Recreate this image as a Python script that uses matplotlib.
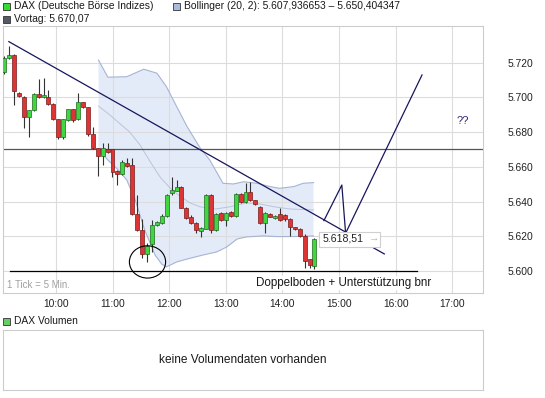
import matplotlib
matplotlib.use("Agg")
import matplotlib.pyplot as plt
from matplotlib.patches import Rectangle, Ellipse
import numpy as np

plt.rcParams['font.family'] = ['Liberation Sans', 'DejaVu Sans']


def hm(s):
    # "HH:MM" -> Stunden als Kommazahl
    h, m = s.split(':')
    return int(h) + int(m) / 60


first_candle = "09:05"
last_candle = "14:34"
opens = [5714.5, 5722.5, 5724.4, 5702.4, 5700.1, 5688.5, 5692.7, 5701.8, 5700.1, 5700.1,
         5696.0, 5687.4, 5677.4, 5687.0, 5693.1, 5687.6, 5697.2, 5694.3, 5678.7, 5670.7,
         5666.2, 5670.1, 5670.1, 5657.6, 5655.7, 5662.4, 5661.1, 5632.8, 5623.6, 5609.6,
         5615.4, 5626.5, 5627.8, 5631.7, 5644.8, 5646.3, 5648.6, 5636.5, 5631.3, 5627.5,
         5623.0, 5624.4, 5643.8, 5623.6, 5633.6, 5629.4, 5633.8, 5631.7, 5644.2, 5639.6,
         5645.7, 5640.9, 5637.0, 5627.8, 5632.8, 5630.7, 5632.7, 5632.3, 5629.8, 5625.2,
         5624.0, 5620.2, 5606.7, 5603.1]
highs = [5723.8, 5729.6, 5724.8, 5703.1, 5700.5, 5693.0, 5702.5, 5710.6, 5711.0, 5704.3,
         5696.5, 5687.6, 5687.8, 5693.5, 5693.5, 5702.7, 5697.5, 5694.5, 5682.8, 5671.0,
         5673.6, 5673.7, 5670.5, 5658.0, 5664.0, 5665.1, 5665.1, 5643.8, 5630.0, 5616.0,
         5629.4, 5629.0, 5633.0, 5644.5, 5654.1, 5652.4, 5649.0, 5637.0, 5632.0, 5628.0,
         5625.5, 5644.5, 5644.3, 5633.5, 5634.0, 5634.0, 5634.5, 5645.0, 5645.0, 5650.7,
         5651.3, 5641.0, 5637.5, 5634.0, 5633.5, 5632.5, 5636.3, 5633.0, 5630.5, 5625.5,
         5624.5, 5621.0, 5607.0, 5619.0]
lows = [5713.5, 5722.1, 5695.6, 5700.2, 5682.2, 5677.0, 5692.0, 5699.5, 5699.6, 5695.5,
        5687.0, 5675.9, 5676.0, 5686.5, 5686.0, 5687.0, 5694.0, 5678.0, 5670.0, 5654.7,
        5661.0, 5668.0, 5654.3, 5649.5, 5655.0, 5660.0, 5632.0, 5623.0, 5607.5, 5605.2,
        5611.0, 5626.0, 5627.0, 5631.0, 5644.0, 5646.0, 5636.0, 5630.0, 5627.0, 5621.9,
        5619.6, 5624.0, 5621.9, 5623.0, 5629.0, 5625.9, 5631.0, 5631.0, 5639.0, 5639.0,
        5640.5, 5638.0, 5627.0, 5621.9, 5631.0, 5630.0, 5629.0, 5629.0, 5620.2, 5623.5,
        5619.5, 5601.7, 5601.7, 5601.4]
closes = [5722.5, 5724.4, 5703.9, 5700.8, 5688.5, 5692.7, 5701.8, 5700.1, 5701.4, 5696.0,
          5687.4, 5677.4, 5687.4, 5693.1, 5687.0, 5697.2, 5694.3, 5678.7, 5670.7, 5666.2,
          5670.7, 5668.7, 5657.2, 5655.7, 5663.0, 5660.5, 5632.8, 5623.6, 5609.6, 5614.6,
          5626.5, 5628.4, 5631.7, 5643.8, 5646.7, 5648.6, 5636.5, 5630.7, 5627.5, 5623.6,
          5624.9, 5643.8, 5623.6, 5632.8, 5629.4, 5633.6, 5631.9, 5644.4, 5639.6, 5645.3,
          5640.9, 5638.6, 5627.8, 5633.2, 5631.3, 5631.9, 5629.4, 5629.8, 5625.5, 5624.0,
          5620.2, 5605.9, 5603.5, 5618.51]

# Bollinger (20, 2) - Stuetzpunkte der Baender
bb_upper_t = ["10:45", "10:55", "11:15", "11:33", "11:47", "11:57", "12:08", "12:19", "12:33", "12:43",
              "12:50", "12:57", "13:08", "13:19", "13:33", "13:47", "13:57", "14:12", "14:22", "14:33"]
bb_upper = [5721.5, 5711.6, 5711.9, 5716.2, 5713.9, 5706.2, 5694.6, 5683.1, 5670.7, 5663.9,
            5657.2, 5650.5, 5650.1, 5651.4, 5650.5, 5648.6, 5647.6, 5648.6, 5650.5, 5650.9]
bb_lower_t = ["10:45", "10:55", "11:06", "11:15", "11:24", "11:34", "11:45", "11:52", "11:57", "12:08",
              "12:22", "12:36", "12:50", "13:01", "13:12", "13:22", "13:40", "13:54", "14:08", "14:22", "14:33"]
bb_lower = [5669.7, 5663.9, 5658.2, 5652.4, 5640.9, 5623.6, 5609.2, 5604.0, 5602.3, 5605.2,
            5607.3, 5609.2, 5610.9, 5613.8, 5618.4, 5619.6, 5620.2, 5619.8, 5619.8, 5619.9, 5620.2]
bb_mid_t = ["10:45", "10:57", "11:08", "11:18", "11:29", "11:40", "11:51", "12:01", "12:11", "12:22",
            "12:33", "12:49", "13:04", "13:22", "13:36", "13:52", "14:08", "14:33"]
bb_mid = [5695.0, 5689.9, 5684.7, 5680.1, 5672.6, 5662.8, 5653.6, 5647.8, 5643.2, 5639.2,
          5636.9, 5635.7, 5636.9, 5639.2, 5638.6, 5636.9, 5635.7, 5635.1]

vortag = 5670.07
last_price = 5618.51

# Zeichnungen im Chart
trend_t = ["09:10", "15:48"]
trend_p = [5732.1, 5609.8]
zigzag_t = ["14:44", "15:03", "15:07", "16:28"]
zigzag_p = [5629.0, 5649.5, 5621.7, 5712.9]
support_t = ["09:11", "16:23"]
support_p = [5600.2, 5600.2]
circle_t, circle_p = "11:37", 5605.2

hour_ticks = ["10:00", "11:00", "12:00", "13:00", "14:00", "15:00", "16:00", "17:00"]
price_ticks = [5600, 5620, 5640, 5660, 5680, 5700, 5720]

W, H = 545, 398
fig = plt.figure(figsize=(W / 100, H / 100), dpi=100)
fig.patch.set_facecolor('white')
ax = fig.add_axes([3 / W, 105 / H, 480 / W, 267 / H])
vax = fig.add_axes([3 / W, 8 / H, 480 / W, 60 / H])

# Bollinger-Band
up_x = [hm(s) for s in bb_upper_t]
lo_x = [hm(s) for s in bb_lower_t]
ax.fill(up_x + lo_x[::-1], bb_upper + bb_lower[::-1], color='#e4ebf8', lw=0, zorder=1)
ax.plot(up_x, bb_upper, color='#a7b4d2', lw=0.8, zorder=2)
ax.plot(lo_x, bb_lower, color='#a7b4d2', lw=0.8, zorder=2)
ax.plot([hm(s) for s in bb_mid_t], bb_mid, color='#b9c4dc', lw=0.7, zorder=2)

ax.axhline(vortag, color='#555555', lw=0.9, zorder=2.2)

# Kerzen
o = np.array(opens)
c = np.array(closes)
t = np.linspace(hm(first_candle), hm(last_candle), len(closes))
up = c >= o
ax.vlines(t, lows, highs, color='#333333', lw=0.8, zorder=3)
body = np.maximum(np.abs(c - o), 0.7)
ax.bar(t[up], body[up], bottom=o[up], width=0.07, color='#3fd63f',
       edgecolor='#1f6a1f', lw=0.5, zorder=4)
ax.bar(t[~up], body[~up], bottom=c[~up], width=0.07, color='#dd3434',
       edgecolor='#7a1c1c', lw=0.5, zorder=4)

# Trendlinien und Markierungen
ax.plot([hm(s) for s in trend_t], trend_p, color='#16165e', lw=0.9, zorder=5)
ax.plot([hm(s) for s in zigzag_t], zigzag_p, color='#16165e', lw=0.9, zorder=5)
ax.plot([hm(s) for s in support_t], support_p, color='black', lw=0.9, zorder=5)
ax.add_patch(Ellipse((hm(circle_t), circle_p), width=0.64, height=18.6,
                     fill=False, ec='black', lw=0.8, zorder=5))

# Kursmarke mit Pfeil
ax.add_patch(Rectangle((hm("14:39"), last_price - 4.9), 1.07, 8.6, fc='white',
                       ec='#cfcfcf', lw=0.8, zorder=6))
ax.text(hm("14:43"), last_price, "5.618,51", fontsize=7.6, va='center', ha='left',
        color='#222222', zorder=7)
ax.text(hm("15:32"), last_price, "\u2192", fontsize=7.5, va='center', ha='left',
        color='#b5b5b5', zorder=7)

ax.text(hm("17:11"), 5686.1, "??", fontsize=8, ha='center', va='center', color='#2a2a70',
        zorder=6, bbox=dict(boxstyle='square,pad=0.3', fc='white', ec='none'))
ax.text(hm("15:05"), 5593.0, "Doppelboden + Unterst\u00fctzung bnr", fontsize=8.4,
        ha='center', va='center', color='#1a1a1a', zorder=6,
        bbox=dict(boxstyle='square,pad=0.1', fc='white', ec='none'))
ax.text(0.008, 0.012, "1 Tick = 5 Min.", transform=ax.transAxes, fontsize=7,
        color='#a0a0a0', ha='left', va='bottom', zorder=6)

# Achsen
ax.set_xlim(9.0636, 17.544)
ax.set_ylim(5587.3, 5741.1)
ax.set_xticks([hm(s) for s in hour_ticks])
ax.set_xticklabels(hour_ticks)
ax.set_yticks(price_ticks)
ax.set_yticklabels([f"{v:,.0f}".replace(',', '.') for v in price_ticks])
ax.yaxis.tick_right()
ax.tick_params(axis='both', length=0, labelsize=7.4, colors='#222222')
ax.tick_params(axis='y', pad=18)
ax.tick_params(axis='x', pad=4)
ax.set_axisbelow('line')
ax.grid(True, color='#dcdcdc', lw=0.8)
for s in ax.spines.values():
    s.set_color('#cccccc')
    s.set_linewidth(0.8)

# Volumen-Panel
vax.set_xticks([])
vax.set_yticks([])
for s in vax.spines.values():
    s.set_color('#cccccc')
    s.set_linewidth(0.8)
vax.text(0.5, 0.5, "keine Volumendaten vorhanden", transform=vax.transAxes,
         ha='center', va='center', fontsize=8.6, color='#1a1a1a')


# Legenden oben
def legend_item(x, y, color, label):
    fig.patches.append(Rectangle((x / W, 1 - (y + 4) / H), 7 / W, 7 / H, transform=fig.transFigure,
                                 fc=color, ec='#333333', lw=0.6))
    fig.text((x + 11) / W, 1 - y / H, label, fontsize=7.4, va='center', ha='left', color='#1a1a1a')


legend_item(3, 6, '#33dd33', "DAX (Deutsche B\u00f6rse Indizes)")
legend_item(173, 6, '#aabbdd', "Bollinger (20, 2): 5.607,936653 \u2013 5.650,404347")
legend_item(3, 19, '#555a66', "Vortag: 5.670,07")
legend_item(3, 321, '#66cc66', "DAX Volumen")

fig.savefig("out.png", dpi=100)
